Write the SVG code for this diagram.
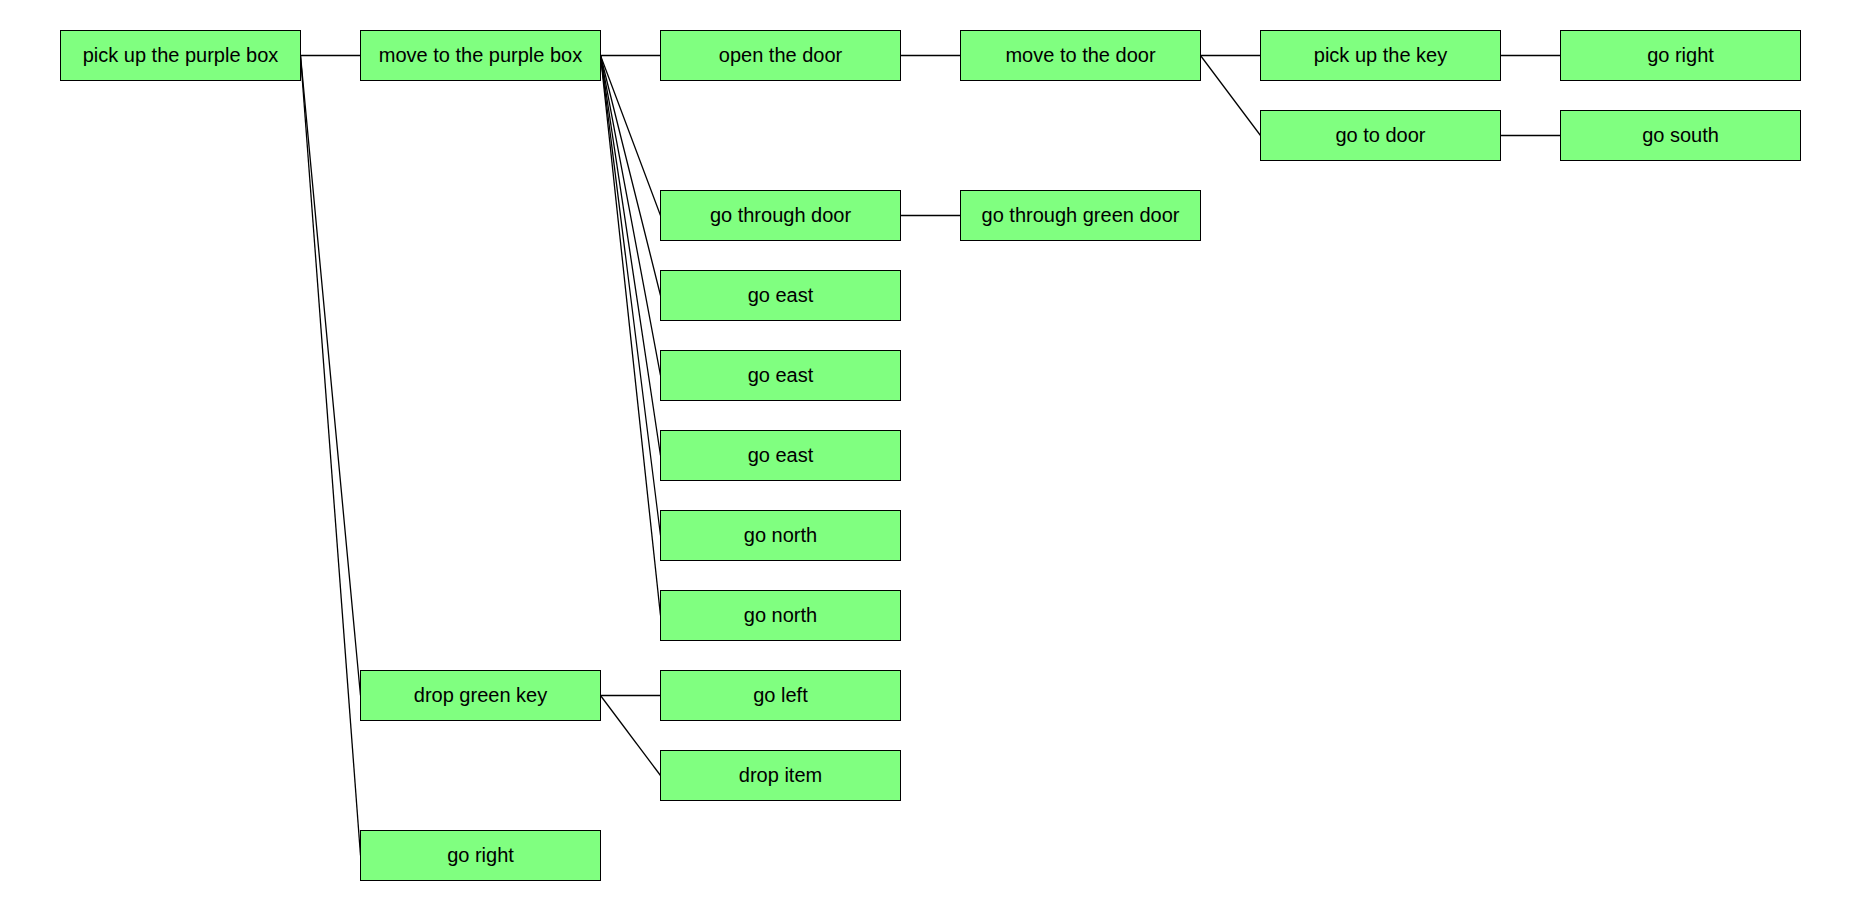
<svg xmlns="http://www.w3.org/2000/svg" width="1860" height="910" viewBox="0 0 1860 910">
<style>
.n rect{fill:#80ff80;stroke:#000;stroke-width:1}
.n text{font-family:"Liberation Sans",Arial,sans-serif;font-size:20px;fill:#000;text-anchor:middle}
#edges line{stroke:#000;stroke-width:1.3;fill:none}
</style>
<rect width="1860" height="910" fill="#fff"/>
<g id="edges">
<line x1="300.5" y1="55.5" x2="360.5" y2="55.5"/>
<line x1="300.5" y1="55.5" x2="360.5" y2="695.5"/>
<line x1="300.5" y1="55.5" x2="360.5" y2="855.5"/>
<line x1="600.5" y1="55.5" x2="660.5" y2="55.5"/>
<line x1="600.5" y1="55.5" x2="660.5" y2="215.5"/>
<line x1="600.5" y1="55.5" x2="660.5" y2="295.5"/>
<line x1="600.5" y1="55.5" x2="660.5" y2="375.5"/>
<line x1="600.5" y1="55.5" x2="660.5" y2="455.5"/>
<line x1="600.5" y1="55.5" x2="660.5" y2="535.5"/>
<line x1="600.5" y1="55.5" x2="660.5" y2="615.5"/>
<line x1="900.5" y1="55.5" x2="960.5" y2="55.5"/>
<line x1="1200.5" y1="55.5" x2="1260.5" y2="55.5"/>
<line x1="1200.5" y1="55.5" x2="1260.5" y2="135.5"/>
<line x1="1500.5" y1="55.5" x2="1560.5" y2="55.5"/>
<line x1="1500.5" y1="135.5" x2="1560.5" y2="135.5"/>
<line x1="900.5" y1="215.5" x2="960.5" y2="215.5"/>
<line x1="600.5" y1="695.5" x2="660.5" y2="695.5"/>
<line x1="600.5" y1="695.5" x2="660.5" y2="775.5"/>
</g>
<g id="n1" class="n"><rect x="60.5" y="30.5" width="240" height="50"/><text x="180.5" y="62">pick up the purple box</text></g>
<g id="n2" class="n"><rect x="360.5" y="30.5" width="240" height="50"/><text x="480.5" y="62">move to the purple box</text></g>
<g id="n3" class="n"><rect x="660.5" y="30.5" width="240" height="50"/><text x="780.5" y="62">open the door</text></g>
<g id="n4" class="n"><rect x="960.5" y="30.5" width="240" height="50"/><text x="1080.5" y="62">move to the door</text></g>
<g id="n5" class="n"><rect x="1260.5" y="30.5" width="240" height="50"/><text x="1380.5" y="62">pick up the key</text></g>
<g id="n6" class="n"><rect x="1560.5" y="30.5" width="240" height="50"/><text x="1680.5" y="62">go right</text></g>
<g id="n7" class="n"><rect x="1260.5" y="110.5" width="240" height="50"/><text x="1380.5" y="142">go to door</text></g>
<g id="n8" class="n"><rect x="1560.5" y="110.5" width="240" height="50"/><text x="1680.5" y="142">go south</text></g>
<g id="n9" class="n"><rect x="660.5" y="190.5" width="240" height="50"/><text x="780.5" y="222">go through door</text></g>
<g id="n10" class="n"><rect x="960.5" y="190.5" width="240" height="50"/><text x="1080.5" y="222">go through green door</text></g>
<g id="n11" class="n"><rect x="660.5" y="270.5" width="240" height="50"/><text x="780.5" y="302">go east</text></g>
<g id="n12" class="n"><rect x="660.5" y="350.5" width="240" height="50"/><text x="780.5" y="382">go east</text></g>
<g id="n13" class="n"><rect x="660.5" y="430.5" width="240" height="50"/><text x="780.5" y="462">go east</text></g>
<g id="n14" class="n"><rect x="660.5" y="510.5" width="240" height="50"/><text x="780.5" y="542">go north</text></g>
<g id="n15" class="n"><rect x="660.5" y="590.5" width="240" height="50"/><text x="780.5" y="622">go north</text></g>
<g id="n16" class="n"><rect x="360.5" y="670.5" width="240" height="50"/><text x="480.5" y="702">drop green key</text></g>
<g id="n17" class="n"><rect x="660.5" y="670.5" width="240" height="50"/><text x="780.5" y="702">go left</text></g>
<g id="n18" class="n"><rect x="660.5" y="750.5" width="240" height="50"/><text x="780.5" y="782">drop item</text></g>
<g id="n19" class="n"><rect x="360.5" y="830.5" width="240" height="50"/><text x="480.5" y="862">go right</text></g>
</svg>
